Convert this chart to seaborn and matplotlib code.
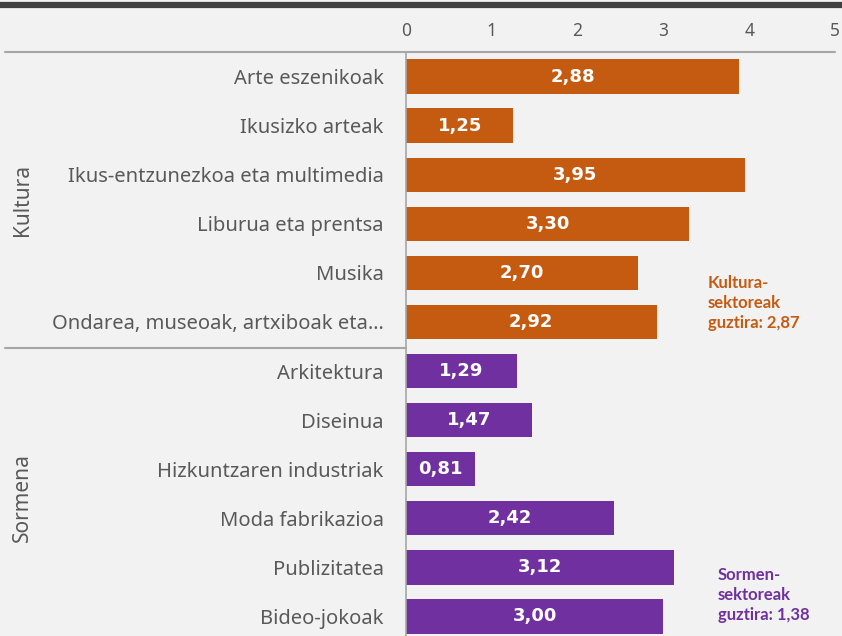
import pandas as pd
import matplotlib.pyplot as plt
import seaborn as sns
from matplotlib.lines import Line2D

# Data
categories = ["Arte eszenikoak", "Ikusizko arteak", "Ikus-entzunezkoa eta multimedia",
              "Liburua eta prentsa", "Musika", "Ondarea, museoak, artxiboak eta\u2026",
              "Arkitektura", "Diseinua", "Hizkuntzaren industriak", "Moda fabrikazioa",
              "Publizitatea", "Bideo-jokoak"]
groups = ["Kultura"] * 6 + ["Sormena"] * 6
# bar lengths as drawn in the reference (first bar is drawn at 3.88 though labelled 2,88)
values = [3.88, 1.25, 3.95, 3.30, 2.70, 2.92, 1.29, 1.47, 0.81, 2.42, 3.12, 3.00]
value_labels = ["2,88", "1,25", "3,95", "3,30", "2,70", "2,92",
                "1,29", "1,47", "0,81", "2,42", "3,12", "3,00"]
xticks = [0, 1, 2, 3, 4, 5]

colors = {"Kultura": "#C55A11", "Sormena": "#7030A0"}
bg = "#F2F2F2"
grey = "#595959"

df = pd.DataFrame({"cat": categories, "val": values, "grp": groups})

sns.set_style("white")
plt.rcParams["font.family"] = ["Noto Sans", "DejaVu Sans"]

fig = plt.figure(figsize=(8.42, 6.36), dpi=100, facecolor=bg)
ax = fig.add_axes([406 / 842, (636 - 641) / 636, 429 / 842, 589 / 636])
ax.set_facecolor(bg)

sns.barplot(data=df, x="val", y="cat", hue="grp", palette=colors, dodge=False,
            width=0.7, saturation=1, linewidth=0, legend=False, ax=ax)

ax.set_xlim(0, 5)
ax.set_ylim(len(categories) - 0.5, -0.5)
ax.xaxis.tick_top()
ax.set_xticks(xticks)
ax.set_xticklabels([str(t) for t in xticks], color=grey, fontsize=12.5)
ax.tick_params(axis="x", length=0, pad=9)
ax.tick_params(axis="y", length=0, pad=16, labelsize=14.5, labelcolor=grey)
ax.set_xlabel("")
ax.set_ylabel("")
for s in ["right", "bottom", "top"]:
    ax.spines[s].set_visible(False)
ax.spines["left"].set_color("#A6A6A6")
ax.spines["left"].set_linewidth(1.2)

# value labels inside bars
bars = sorted([p for c in ax.containers for p in c], key=lambda p: p.get_y())
bars = [b for b in bars if b.get_width() > 0]
for bar, lab in zip(bars, value_labels):
    ax.text(bar.get_width() / 2, bar.get_y() + bar.get_height() / 2, lab,
            ha="center", va="center", color="white", fontsize=13, fontweight="bold",
            family=["DejaVu Sans"])

# horizontal rules and top band
fig.add_artist(Line2D([5 / 842, 835 / 842], [1 - 52 / 636] * 2, color="#A6A6A6", lw=1.5))
fig.add_artist(Line2D([5 / 842, 406 / 842], [1 - 348 / 636] * 2, color="#A6A6A6", lw=1.5))
fig.add_artist(Line2D([0, 1], [1 - 4.5 / 636] * 2, color="#404040", lw=4.5))

# group labels
fig.text(22 / 842, 1 - 200 / 636, "Kultura", rotation=90, ha="center", va="center",
         color=grey, fontsize=15)
fig.text(22 / 842, 1 - 497 / 636, "Sormena", rotation=90, ha="center", va="center",
         color=grey, fontsize=15)

# group totals
fig.text(708 / 842, 1 - 303 / 636, "Kultura-\nsektoreak\nguztira: 2,87", ha="left",
         va="center", color=colors["Kultura"], fontsize=12, fontweight="bold",
         linespacing=1.3, family=["Lato", "DejaVu Sans"])
fig.text(718 / 842, 1 - 595 / 636, "Sormen-\nsektoreak\nguztira: 1,38", ha="left",
         va="center", color=colors["Sormena"], fontsize=12, fontweight="bold",
         linespacing=1.3, family=["Lato", "DejaVu Sans"])

fig.savefig("out.png", dpi=100, facecolor=bg)
